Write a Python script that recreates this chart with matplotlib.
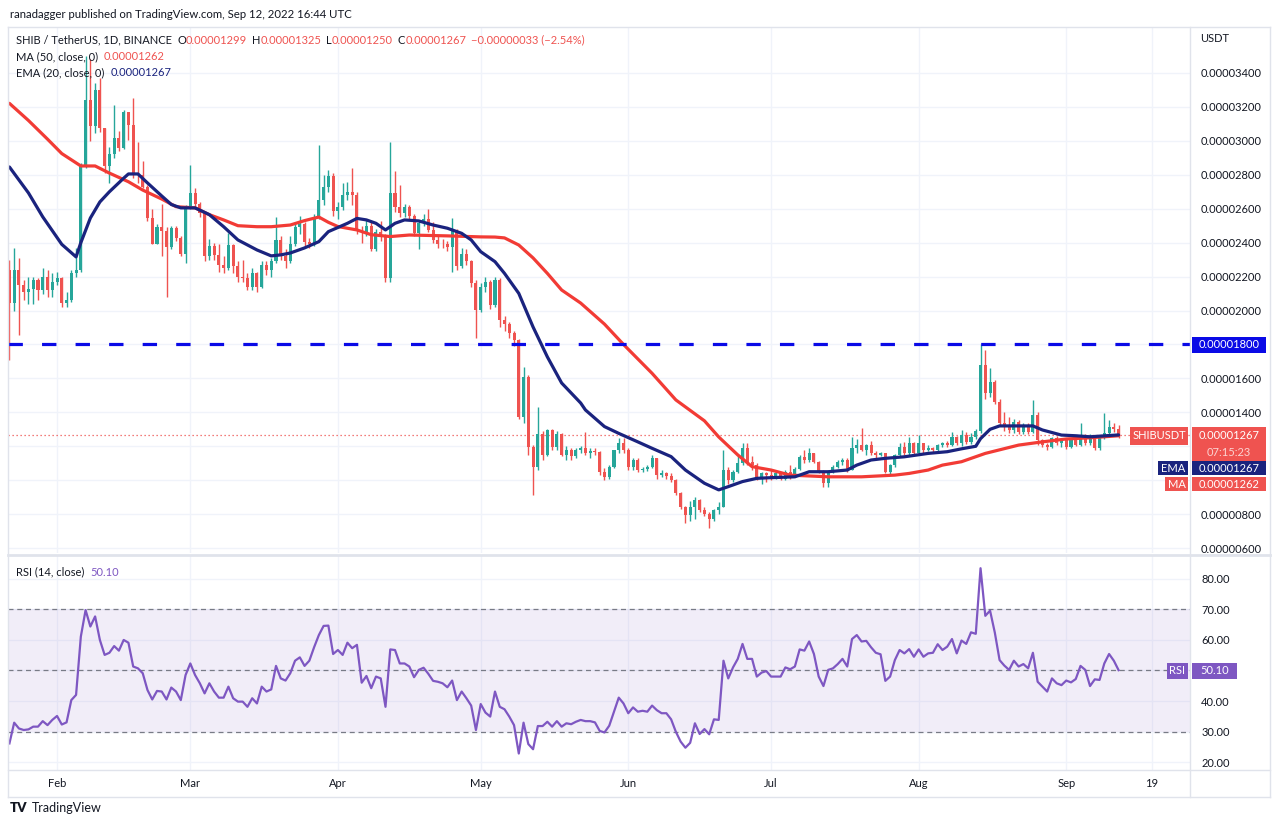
import numpy as np
import matplotlib
matplotlib.use("Agg")
import matplotlib.pyplot as plt
from matplotlib.patches import Rectangle
from matplotlib.lines import Line2D

plt.rcParams['font.family'] = ['Lato', 'DejaVu Sans']

# ---------------- data (prices in units of 1e-8 USDT) ----------------
PRICE_UNIT = 1e-8
first_open = 2240
closes = [
    2044, 2240, 2150, 2110, 2125, 2180, 2120, 2200, 2120, 2170,
    2190, 2045, 2060, 2220, 2240, 2850, 3240, 3090, 3300, 3075,
    2850, 2920, 3015, 2955, 3170, 3095, 2810, 2800, 2730, 2545,
    2395, 2495, 2470, 2375, 2485, 2425, 2335, 2610, 2690, 2630,
    2575, 2320, 2380, 2330, 2270, 2250, 2385, 2260, 2200, 2190,
    2140, 2220, 2140, 2270, 2240, 2290, 2415, 2320, 2290, 2395,
    2495, 2510, 2405, 2390, 2550, 2650, 2730, 2790, 2585, 2610,
    2680, 2700, 2680, 2475, 2460, 2500, 2365, 2465, 2440, 2190,
    2690, 2610, 2575, 2610, 2555, 2455, 2515, 2540, 2475, 2415,
    2395, 2390, 2375, 2475, 2260, 2335, 2290, 2160, 2005, 2140,
    2170, 2030, 2180, 1945, 1920, 1865, 1825, 1375, 1610, 1195,
    1080, 1275, 1150, 1295, 1195, 1275, 1150, 1180, 1140, 1178,
    1190, 1160, 1175, 1165, 1050, 1020, 1080, 1178, 1218, 1180,
    1080, 1120, 1060, 1065, 1075, 1130, 1030, 1040, 1025, 1000,
    923, 845, 795, 845, 885, 825, 800, 770, 825, 845,
    1060, 1000, 1050, 1100, 1188, 1110, 1090, 1010, 1040, 1030,
    1020, 1040, 1010, 1050, 1030, 1069, 1138, 1120, 1158, 1109,
    1050, 981, 1050, 1079, 1109, 1119, 1060, 1187, 1207, 1178,
    1207, 1158, 1148, 1158, 1050, 1089, 1148, 1197, 1158, 1217,
    1158, 1217, 1178, 1187, 1178, 1207, 1217, 1210, 1256, 1217,
    1266, 1227, 1255, 1290, 1680, 1512, 1580, 1463, 1335, 1315,
    1295, 1345, 1286, 1325, 1286, 1384, 1237, 1207, 1197, 1246,
    1217, 1237, 1197, 1237, 1207, 1266, 1217, 1256, 1187, 1246,
    1276, 1315, 1299, 1267,
]
highs = [
    2300, 2370, 2310, 2180, 2200, 2200, 2190, 2250, 2240, 2220,
    2230, 2200, 2110, 2240, 2370, 2870, 3500, 3480, 3340, 3370,
    3075, 2965, 3210, 3060, 3180, 3170, 3250, 2995, 2880, 2740,
    2600, 2510, 2630, 2490, 2500, 2500, 2440, 2620, 2860, 2720,
    2640, 2580, 2420, 2400, 2390, 2320, 2455, 2390, 2290, 2300,
    2220, 2250, 2230, 2290, 2290, 2310, 2550, 2440, 2360, 2440,
    2520, 2560, 2520, 2430, 2570, 2976, 2800, 2830, 2810, 2640,
    2750, 2760, 2840, 2700, 2500, 2540, 2520, 2480, 2530, 2450,
    2995, 2820, 2740, 2630, 2620, 2570, 2530, 2570, 2600, 2520,
    2440, 2420, 2410, 2545, 2480, 2370, 2360, 2300, 2180, 2160,
    2200, 2180, 2200, 2190, 1970, 1930, 1880, 1830, 1670, 1620,
    1210, 1433, 1290, 1300, 1300, 1290, 1280, 1200, 1190, 1190,
    1200, 1286, 1190, 1190, 1175, 1070, 1090, 1180, 1250, 1250,
    1190, 1130, 1130, 1080, 1090, 1150, 1130, 1060, 1050, 1040,
    1010, 930, 850, 880, 900, 890, 840, 810, 830, 870,
    1178, 1080, 1060, 1150, 1218, 1218, 1140, 1100, 1050, 1050,
    1060, 1050, 1050, 1060, 1089, 1080, 1150, 1180, 1187, 1160,
    1115, 1060, 1060, 1090, 1120, 1130, 1130, 1256, 1240, 1305,
    1215, 1230, 1170, 1165, 1160, 1095, 1155, 1217, 1227, 1256,
    1227, 1266, 1220, 1207, 1195, 1215, 1227, 1230, 1286, 1260,
    1295, 1286, 1276, 1300, 1800, 1770, 1659, 1590, 1480, 1404,
    1374, 1360, 1355, 1340, 1335, 1472, 1400, 1245, 1220, 1255,
    1260, 1250, 1245, 1250, 1240, 1335, 1270, 1270, 1260, 1255,
    1394, 1355, 1335, 1325,
]
lows = [
    1710, 2000, 1856, 2060, 2040, 2040, 2060, 2100, 2080, 2080,
    2150, 2020, 2020, 2050, 2200, 2230, 2840, 3000, 3045, 3050,
    2810, 2750, 2900, 2940, 2950, 3005, 2780, 2750, 2720, 2530,
    2390, 2390, 2320, 2080, 2360, 2410, 2320, 2280, 2600, 2600,
    2550, 2290, 2300, 2300, 2230, 2220, 2240, 2220, 2170, 2170,
    2120, 2120, 2110, 2130, 2210, 2200, 2280, 2300, 2250, 2280,
    2380, 2450, 2380, 2370, 2380, 2540, 2620, 2700, 2560, 2540,
    2590, 2650, 2620, 2450, 2400, 2440, 2350, 2350, 2410, 2170,
    2170, 2580, 2550, 2550, 2540, 2440, 2365, 2500, 2460, 2400,
    2370, 2370, 2350, 2230, 2240, 2250, 2270, 2140, 1836, 1990,
    2110, 2010, 2020, 1900, 1880, 1840, 1790, 1360, 1340, 1150,
    912, 1060, 1120, 1140, 1180, 1180, 1140, 1120, 1120, 1130,
    1160, 1150, 1130, 1150, 1030, 1000, 1010, 1070, 1160, 1160,
    1060, 1060, 1050, 1050, 1055, 1070, 1010, 1020, 1010, 990,
    910, 830, 746, 760, 770, 810, 790, 717, 760, 800,
    840, 980, 990, 1040, 1090, 1090, 1060, 1000, 980, 990,
    1000, 1010, 1000, 1000, 1010, 1020, 1060, 1100, 1110, 1100,
    1040, 962, 962, 1040, 1070, 1090, 1050, 1060, 1160, 1170,
    1150, 1150, 1130, 1140, 1040, 1030, 1080, 1140, 1150, 1150,
    1150, 1150, 1160, 1170, 1165, 1170, 1195, 1195, 1200, 1205,
    1200, 1215, 1215, 1245, 1280, 1480, 1490, 1450, 1320, 1290,
    1280, 1280, 1270, 1275, 1275, 1280, 1207, 1195, 1178, 1190,
    1205, 1195, 1185, 1190, 1200, 1200, 1205, 1210, 1178, 1180,
    1240, 1270, 1285, 1250,
]

ma50_days = [0, 4, 8, 11, 15, 18, 21, 25, 28, 32, 35, 39, 42, 45, 48, 52, 55, 59, 62, 65,
             67, 69, 73, 76, 80, 84, 92, 99, 102, 104, 107, 110, 113, 116, 120, 125, 129,
             135, 140, 146, 149, 153, 156, 160, 164, 172, 179, 186, 189, 193, 196, 200,
             205, 212, 217, 222, 227, 233]
ma50_vals = [3221, 3120, 3010, 2925, 2852, 2852, 2810, 2759, 2710, 2657, 2612, 2605, 2565,
             2534, 2500, 2494, 2494, 2504, 2530, 2551, 2520, 2495, 2475, 2447, 2436, 2445,
             2440, 2434, 2433, 2428, 2386, 2310, 2219, 2121, 2044, 1920, 1800, 1630, 1473,
             1350, 1255, 1149, 1080, 1060, 1030, 1020, 1020, 1030, 1040, 1060, 1089, 1109,
             1158, 1207, 1226, 1243, 1250, 1262]

ema20_days = [0, 4, 7, 11, 14, 15, 17, 19, 21, 24, 25, 27, 29, 32, 34, 36, 39, 42, 45, 48,
              52, 55, 57, 59, 62, 65, 67, 71, 73, 75, 77, 79, 81, 83, 86, 89, 92, 95, 97,
              99, 102, 104, 107, 110, 113, 116, 120, 121, 125, 128, 132, 135, 139, 142,
              146, 149, 151, 154, 157, 160, 165, 168, 172, 176, 178, 181, 184, 188, 193,
              197, 200, 203, 204, 206, 208, 215, 217, 221, 224, 227, 233]
ema20_vals = [2846, 2693, 2552, 2390, 2316, 2400, 2545, 2640, 2700, 2780, 2805, 2805, 2752,
              2675, 2625, 2605, 2605, 2565, 2494, 2416, 2357, 2322, 2328, 2339, 2369, 2406,
              2465, 2514, 2543, 2534, 2514, 2475, 2514, 2534, 2528, 2504, 2485, 2455, 2416,
              2347, 2288, 2219, 2101, 1903, 1727, 1573, 1455, 1414, 1316, 1276, 1226, 1188,
              1139, 1060, 982, 943, 962, 992, 1011, 1015, 1020, 1050, 1050, 1060, 1089, 1119,
              1129, 1138, 1158, 1168, 1185, 1200, 1245, 1300, 1320, 1320, 1296, 1266, 1262,
              1256, 1267]

rsi_vals = [
    26.1, 32.9, 31.0, 30.5, 30.7, 31.6, 31.6, 33.4, 32.1, 33.8,
    35.1, 32.3, 33.0, 40.3, 42.0, 61.1, 69.8, 64.4, 67.7, 60.0,
    55.1, 55.8, 58.0, 56.5, 60.0, 59.1, 51.3, 50.7, 49.1, 43.6,
    40.5, 43.3, 43.1, 40.5, 44.4, 43.1, 40.3, 48.5, 52.3, 48.5,
    45.8, 42.5, 45.8, 43.1, 41.1, 41.1, 44.7, 40.9, 39.8, 39.8,
    38.1, 40.9, 39.2, 44.7, 43.1, 43.8, 51.5, 47.4, 46.7, 49.1,
    53.2, 54.3, 51.5, 53.2, 57.6, 61.6, 64.6, 64.7, 55.4, 56.7,
    55.1, 59.1, 57.3, 58.4, 46.0, 48.2, 44.2, 48.0, 47.4, 38.1,
    56.9, 56.7, 52.3, 52.3, 51.3, 47.8, 50.2, 50.9, 48.9, 46.6,
    46.3, 45.8, 44.5, 46.7, 40.3, 43.1, 40.9, 38.5, 30.5, 39.0,
    36.2, 34.9, 43.1, 38.1, 37.3, 34.9, 32.1, 22.8, 32.9, 25.9,
    24.2, 31.8, 31.8, 33.2, 31.6, 33.4, 31.6, 32.7, 32.4, 33.2,
    33.8, 33.4, 33.4, 33.0, 30.2, 29.7, 31.9, 36.5, 41.1, 39.2,
    36.0, 37.9, 36.5, 36.8, 36.5, 38.5, 37.0, 36.0, 36.0, 34.0,
    29.9, 26.7, 24.7, 26.3, 32.7, 29.2, 30.8, 29.1, 34.0, 33.8,
    53.2, 47.4, 51.0, 53.8, 58.7, 53.8, 53.8, 48.0, 49.3, 49.8,
    48.0, 48.0, 48.0, 51.0, 50.4, 51.3, 56.9, 56.5, 59.5, 55.4,
    48.0, 44.9, 50.2, 50.7, 52.1, 53.8, 51.3, 60.3, 61.6, 59.5,
    59.7, 57.6, 55.8, 55.3, 46.6, 48.0, 53.4, 56.7, 55.6, 57.0,
    54.5, 56.9, 54.5, 55.6, 55.8, 58.6, 56.7, 57.8, 60.3, 55.6,
    59.8, 58.7, 62.5, 62.0, 83.5, 67.9, 69.6, 62.4, 53.4, 51.6,
    50.2, 53.2, 51.3, 52.1, 50.7, 55.8, 46.3, 44.7, 43.1, 47.4,
    45.8, 45.2, 46.7, 46.1, 47.2, 51.5, 50.2, 44.9, 47.1, 46.9,
    52.3, 55.4, 53.2, 50.1,
]

price_ticks = list(range(600, 3401, 200))
hidden_price_labels = [1800, 1200, 1000]   # covered by the scale badges in the original
rsi_ticks = [20, 30, 40, 50, 60, 70, 80]
hidden_rsi_labels = [50]
rsi_levels = [30, 50, 70]
month_days = [10, 38, 69, 99, 130, 160, 191, 222, 240]
month_labels = ["Feb", "Mar", "Apr", "May", "Jun", "Jul", "Aug", "Sep", "19"]
support_level = 1800
last_price = 1267
ma_last = 1262
ema_last = 1267
rsi_last = 50.10

# ---------------- style ----------------
W, H = 1280, 826
UP, DOWN = '#26A69A', '#EF5350'
MA_C, EMA_C = '#F23B35', '#1A237E'
RSI_C = '#7E57C2'
TXT = '#131722'
GRID = '#F0F3FA'
FRAME = '#E0E3EB'

fig = plt.figure(figsize=(W / 100, H / 100), dpi=100, facecolor='white')


def fx(px):
    return px / W


def fy(py):
    return 1 - py / H


def fmt_price(v):
    return f"{v * PRICE_UNIT:.8f}"


days = np.arange(len(closes))
c = np.array(closes, float)
o = np.array([first_open] + closes[:-1], float)
hi = np.array(highs, float)
lo = np.array(lows, float)
cols = np.where(c >= o, UP, DOWN)

# ---------------- main panel ----------------
ax = fig.add_axes([fx(8), fy(553), fx(1190) - fx(8), fy(27) - fy(553)])
ax.set_xlim(-0.3, 248.0)
ax.set_ylim(571, 3671)
for s in ax.spines.values():
    s.set_visible(False)
ax.set_yticks(price_ticks)
ax.set_yticklabels(['' if v in hidden_price_labels else fmt_price(v) for v in price_ticks])
ax.yaxis.tick_right()
ax.tick_params(axis='y', length=0, pad=8, labelsize=8, labelcolor=TXT)
ax.set_xticks(month_days)
ax.tick_params(axis='x', length=0, labelbottom=False)
ax.grid(True, color=GRID, lw=1)
ax.set_axisbelow(True)

ax.vlines(days, lo, hi, colors=cols, lw=1, zorder=2)
body = np.maximum(np.abs(c - o), 4)
ax.bar(days, body, bottom=np.minimum(o, c), width=0.64, color=cols, lw=0, zorder=3)

ax.plot(ma50_days, ma50_vals, color=MA_C, lw=2.3, zorder=4, solid_capstyle='round',
        solid_joinstyle='round')
ax.plot(ema20_days, ema20_vals, color=EMA_C, lw=2.3, zorder=5, solid_capstyle='round',
        solid_joinstyle='round')

ax.axhline(support_level, color='#0A0AE6', lw=2.3, ls=(0, (4.5, 6.0)), zorder=6)
ax.axhline(last_price, color=DOWN, lw=0.9, ls=(0, (1, 2.2)), zorder=1)

# ---------------- RSI panel ----------------
axr = fig.add_axes([fx(8), fy(770), fx(1190) - fx(8), fy(556) - fy(770)])
axr.set_xlim(-0.3, 248.0)
axr.set_ylim(17.4, 87.5)
for s in axr.spines.values():
    s.set_visible(False)
axr.set_yticks(rsi_ticks)
axr.set_yticklabels(['' if v in hidden_rsi_labels else f"{v:.2f}" for v in rsi_ticks])
axr.yaxis.tick_right()
axr.tick_params(axis='y', length=0, pad=8, labelsize=8, labelcolor=TXT)
axr.set_xticks(month_days)
axr.set_xticklabels(month_labels)
axr.tick_params(axis='x', length=0, pad=6, labelsize=8, labelcolor=TXT)
axr.grid(True, color=GRID, lw=1)
axr.set_axisbelow(True)
axr.axhspan(rsi_levels[0], rsi_levels[-1], color=RSI_C, alpha=0.1, lw=0, zorder=1)
for lvl in rsi_levels:
    axr.axhline(lvl, color='#787B86', lw=0.9, ls=(0, (4, 3)), zorder=2)
axr.plot(days, rsi_vals, color=RSI_C, lw=1.6, zorder=3)


# ---------------- frame lines ----------------
def fline(x0, y0, x1, y1, lw=1.0, color=FRAME):
    fig.add_artist(Line2D([fx(x0), fx(x1)], [fy(y0), fy(y1)], color=color, lw=lw,
                          transform=fig.transFigure))


fline(8, 27, 1270, 27)
fline(8, 797, 1270, 797)
fline(8, 27, 8, 797)
fline(1270, 27, 1270, 797)
fline(8, 555, 1270, 555, lw=2.0)
fline(8, 770, 1270, 770)
fline(1190, 27, 1190, 797)

# ---------------- text helpers ----------------
renderer = fig.canvas.get_renderer()


def seq_text(x_px, y_px, parts, size=8.0):
    x = x_px
    for s, col, gap in parts:
        t = fig.text(fx(x), fy(y_px), s, color=col, fontsize=size, ha='left', va='center')
        x += t.get_window_extent(renderer).width + gap


def box(x0, y0, x1, y1, color, text=None, tcolor='white', size=8.0):
    fig.add_artist(Rectangle((fx(x0), fy(y1)), fx(x1) - fx(x0), fy(y0) - fy(y1),
                             transform=fig.transFigure, facecolor=color, edgecolor='none',
                             zorder=10))
    if text is not None:
        fig.text(fx((x0 + x1) / 2), fy((y0 + y1) / 2), text, color=tcolor, fontsize=size,
                 ha='center', va='center', zorder=11)


fig.text(fx(10), fy(14), "ranadagger published on TradingView.com, Sep 12, 2022 16:44 UTC",
         color=TXT, fontsize=8.2, ha='left', va='center')

seq_text(16, 40, [("SHIB / TetherUS, 1D, BINANCE", TXT, 5),
                  ("O", TXT, 0), ("0.00001299", DOWN, 5),
                  ("H", TXT, 0), ("0.00001325", DOWN, 5),
                  ("L", TXT, 0), ("0.00001250", DOWN, 5),
                  ("C", TXT, 0), ("0.00001267", DOWN, 5),
                  ("\u22120.00000033 (\u22122.54%)", DOWN, 0)])
seq_text(16, 57, [("MA (50, close, 0)", TXT, 6), (fmt_price(ma_last), DOWN, 0)])
seq_text(16, 73, [("EMA (20, close, 0)", TXT, 6), (fmt_price(ema_last), EMA_C, 0)])
seq_text(16, 572, [("RSI (14, close)", TXT, 6), (f"{rsi_last:.2f}", RSI_C, 0)])

fig.text(fx(1200), fy(38), "USDT", color=TXT, fontsize=8, ha='left', va='center')

# right scale badges
box(1192, 337, 1266, 353, '#0A0AE6', fmt_price(support_level))
box(1130, 427, 1188, 445, DOWN, "SHIBUSDT")
box(1192, 427, 1266, 461, DOWN)
fig.text(fx(1229), fy(436), fmt_price(last_price), color='white', fontsize=8.0,
         ha='center', va='center', zorder=11)
fig.text(fx(1229), fy(452), "07:15:23", color='#FBD3D2', fontsize=8.0,
         ha='center', va='center', zorder=11)
box(1158, 461, 1188, 475, EMA_C, "EMA")
box(1192, 461, 1266, 475, EMA_C, fmt_price(ema_last))
box(1165, 477, 1188, 491, DOWN, "MA")
box(1192, 477, 1266, 491, DOWN, fmt_price(ma_last))
box(1167, 663, 1188, 679, RSI_C, "RSI")
box(1192, 663, 1237, 679, RSI_C, f"{rsi_last:.2f}")

# footer logo
fig.text(fx(10), fy(808), "TV", color=TXT, fontsize=9.5, fontweight='heavy',
         ha='left', va='center')
fig.text(fx(32), fy(808), "TradingView", color=TXT, fontsize=9, ha='left', va='center')

fig.savefig("out.png", dpi=100, facecolor='white')
